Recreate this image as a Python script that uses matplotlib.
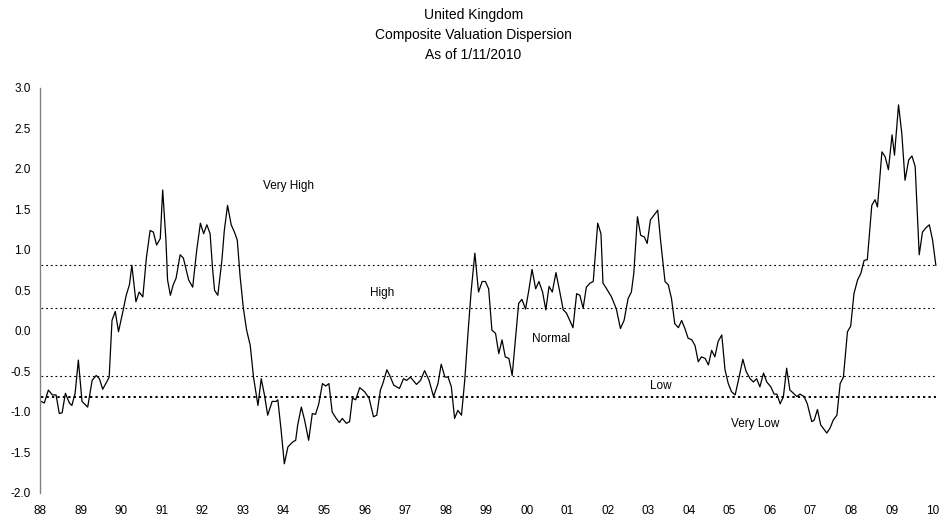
import matplotlib
matplotlib.use("Agg")
import matplotlib.pyplot as plt

plt.rcParams["font.family"] = ["Liberation Sans", "DejaVu Sans"]

# decimal years and composite dispersion values
dates = [
    1988.02, 1988.10, 1988.20, 1988.30, 1988.39, 1988.47, 1988.54, 1988.62, 1988.72, 1988.78,
    1988.86, 1988.94, 1989.03, 1989.17, 1989.28, 1989.38, 1989.46, 1989.54, 1989.66, 1989.70,
    1989.77, 1989.85, 1989.93, 1990.03, 1990.12, 1990.20, 1990.26, 1990.36, 1990.44, 1990.53,
    1990.62, 1990.71, 1990.79, 1990.87, 1990.96, 1991.02, 1991.10, 1991.14, 1991.21, 1991.28,
    1991.35, 1991.45, 1991.53, 1991.66, 1991.76, 1991.86, 1991.95, 1992.03, 1992.11, 1992.19,
    1992.25, 1992.30, 1992.38, 1992.48, 1992.54, 1992.62, 1992.71, 1992.79, 1992.86, 1992.93,
    1993.01, 1993.09, 1993.18, 1993.26, 1993.37, 1993.45, 1993.53, 1993.61, 1993.72, 1993.82,
    1993.86, 1993.94, 1994.02, 1994.11, 1994.23, 1994.30, 1994.35, 1994.44, 1994.52, 1994.62,
    1994.71, 1994.79, 1994.87, 1994.96, 1995.04, 1995.12, 1995.20, 1995.30, 1995.38, 1995.45,
    1995.55, 1995.63, 1995.70, 1995.78, 1995.88, 1996.00, 1996.11, 1996.22, 1996.30, 1996.39,
    1996.45, 1996.55, 1996.62, 1996.72, 1996.86, 1996.96, 1997.04, 1997.13, 1997.28, 1997.38,
    1997.48, 1997.59, 1997.70, 1997.81, 1997.89, 1997.98, 1998.06, 1998.14, 1998.22, 1998.30,
    1998.39, 1998.47, 1998.55, 1998.63, 1998.72, 1998.81, 1998.90, 1998.98, 1999.06, 1999.14,
    1999.23, 1999.31, 1999.39, 1999.47, 1999.56, 1999.64, 1999.72, 1999.80, 1999.88, 1999.97,
    2000.05, 2000.13, 2000.22, 2000.30, 2000.39, 2000.47, 2000.55, 2000.63, 2000.72, 2000.80,
    2000.90, 2000.98, 2001.14, 2001.23, 2001.31, 2001.39, 2001.47, 2001.56, 2001.64, 2001.75,
    2001.83, 2001.88, 2001.97, 2002.09, 2002.21, 2002.31, 2002.40, 2002.50, 2002.58, 2002.64,
    2002.73, 2002.81, 2002.90, 2002.97, 2003.05, 2003.14, 2003.23, 2003.30, 2003.41, 2003.49,
    2003.57, 2003.65, 2003.74, 2003.82, 2003.90, 2003.98, 2004.07, 2004.15, 2004.23, 2004.31,
    2004.40, 2004.48, 2004.56, 2004.64, 2004.72, 2004.81, 2004.89, 2004.97, 2005.05, 2005.14,
    2005.22, 2005.33, 2005.41, 2005.51, 2005.59, 2005.67, 2005.75, 2005.84, 2005.92, 2006.02,
    2006.10, 2006.17, 2006.25, 2006.33, 2006.41, 2006.49, 2006.58, 2006.66, 2006.74, 2006.84,
    2006.92, 2007.03, 2007.09, 2007.17, 2007.25, 2007.40, 2007.48, 2007.56, 2007.65, 2007.73,
    2007.81, 2007.91, 2007.99, 2008.07, 2008.16, 2008.24, 2008.32, 2008.40, 2008.51, 2008.59,
    2008.65, 2008.76, 2008.84, 2008.92, 2009.01, 2009.07, 2009.17, 2009.25, 2009.33, 2009.42,
    2009.50, 2009.58, 2009.68, 2009.76, 2009.84, 2009.93, 2010.01, 2010.09,
]
values = [
    -0.87, -0.89, -0.73, -0.79, -0.79, -1.02, -1.01, -0.77, -0.89, -0.92,
    -0.77, -0.36, -0.87, -0.94, -0.61, -0.55, -0.59, -0.72, -0.61, -0.57,
    0.13, 0.24, -0.01, 0.22, 0.44, 0.57, 0.81, 0.36, 0.48, 0.42,
    0.91, 1.24, 1.22, 1.06, 1.14, 1.74, 1.12, 0.63, 0.44, 0.57,
    0.65, 0.94, 0.90, 0.63, 0.54, 1.00, 1.33, 1.20, 1.31, 1.20,
    0.77, 0.50, 0.44, 0.87, 1.24, 1.55, 1.31, 1.22, 1.12, 0.67,
    0.28, 0.01, -0.18, -0.57, -0.92, -0.59, -0.79, -1.04, -0.87, -0.87,
    -0.85, -1.22, -1.64, -1.43, -1.37, -1.35, -1.16, -0.94, -1.10, -1.35,
    -1.02, -1.03, -0.90, -0.65, -0.68, -0.65, -1.00, -1.08, -1.13, -1.08,
    -1.14, -1.12, -0.83, -0.85, -0.70, -0.75, -0.83, -1.06, -1.04, -0.73,
    -0.65, -0.48, -0.55, -0.67, -0.71, -0.59, -0.61, -0.57, -0.66, -0.61,
    -0.49, -0.61, -0.81, -0.65, -0.41, -0.57, -0.57, -0.69, -1.08, -0.98,
    -1.04, -0.61, -0.03, 0.50, 0.96, 0.48, 0.61, 0.61, 0.52, 0.01,
    -0.03, -0.28, -0.11, -0.32, -0.34, -0.55, -0.11, 0.34, 0.39, 0.27,
    0.50, 0.76, 0.52, 0.61, 0.48, 0.26, 0.55, 0.48, 0.72, 0.52,
    0.26, 0.22, 0.04, 0.46, 0.44, 0.28, 0.54, 0.59, 0.61, 1.33,
    1.20, 0.59, 0.52, 0.42, 0.27, 0.03, 0.13, 0.40, 0.48, 0.71,
    1.41, 1.18, 1.16, 1.08, 1.37, 1.43, 1.49, 1.12, 0.61, 0.57,
    0.40, 0.09, 0.04, 0.13, 0.03, -0.09, -0.11, -0.18, -0.38, -0.32,
    -0.34, -0.42, -0.24, -0.32, -0.13, -0.05, -0.48, -0.65, -0.75, -0.79,
    -0.61, -0.35, -0.50, -0.59, -0.63, -0.59, -0.69, -0.52, -0.63, -0.69,
    -0.78, -0.78, -0.90, -0.81, -0.46, -0.73, -0.77, -0.81, -0.78, -0.81,
    -0.90, -1.12, -1.10, -0.97, -1.16, -1.26, -1.20, -1.10, -1.04, -0.65,
    -0.57, -0.01, 0.06, 0.46, 0.63, 0.71, 0.87, 0.88, 1.55, 1.62,
    1.53, 2.21, 2.15, 1.99, 2.42, 2.17, 2.79, 2.44, 1.86, 2.11,
    2.16, 2.03, 0.94, 1.22, 1.27, 1.31, 1.12, 0.81,
]

# zone boundaries (dotted lines)
levels = [0.81, 0.28, -0.56, -0.81]

# zone labels and where they sit
zone_names = ["Very High", "High", "Normal", "Low", "Very Low"]
zone_x = [1994.12, 1996.44, 2000.60, 2003.30, 2005.63]
zone_y = [1.79, 0.47, -0.10, -0.68, -1.15]

year_ticks = list(range(1988, 2011))
year_labels = [f"{y % 100:02d}" for y in year_ticks]

fig = plt.figure(figsize=(9.47, 5.2), dpi=100)
ax = fig.add_axes([0.0425, 0.052, 0.947, 0.779])

for lv in levels[:-1]:
    ax.hlines(lv, dates[0], dates[-1], colors="black", linewidth=0.8,
              linestyles=(0, (1.6, 2.6)))
ax.hlines(levels[-1], dates[0], dates[-1], colors="black", linewidth=1.4,
          linestyles=(0, (1.2, 1.6)))

ax.plot(dates, values, color="black", linewidth=0.9)

for name, zx, zy in zip(zone_names, zone_x, zone_y):
    ax.text(zx, zy, name, ha="center", va="center", fontsize=8.5)

ax.set_xlim(1988, 2010.12)
ax.set_ylim(-2.0, 3.0)
ax.set_yticks([-2.0, -1.5, -1.0, -0.5, 0.0, 0.5, 1.0, 1.5, 2.0, 2.5, 3.0])
ax.set_yticklabels([f"{v:.1f}" for v in ax.get_yticks()])
ax.set_xticks(year_ticks)
ax.set_xticklabels(year_labels)
ax.tick_params(axis="y", length=0, pad=7, labelsize=8.5)
ax.tick_params(axis="x", length=0, pad=9, labelsize=8.5)

for side in ["top", "right", "bottom"]:
    ax.spines[side].set_visible(False)
ax.spines["left"].set_color("#808080")
ax.spines["left"].set_linewidth(1.0)

fig.text(0.5, 0.985, "United Kingdom\nComposite Valuation Dispersion\nAs of 1/11/2010",
         ha="center", va="top", fontsize=10, linespacing=1.55)

fig.savefig("out.png", dpi=100)
